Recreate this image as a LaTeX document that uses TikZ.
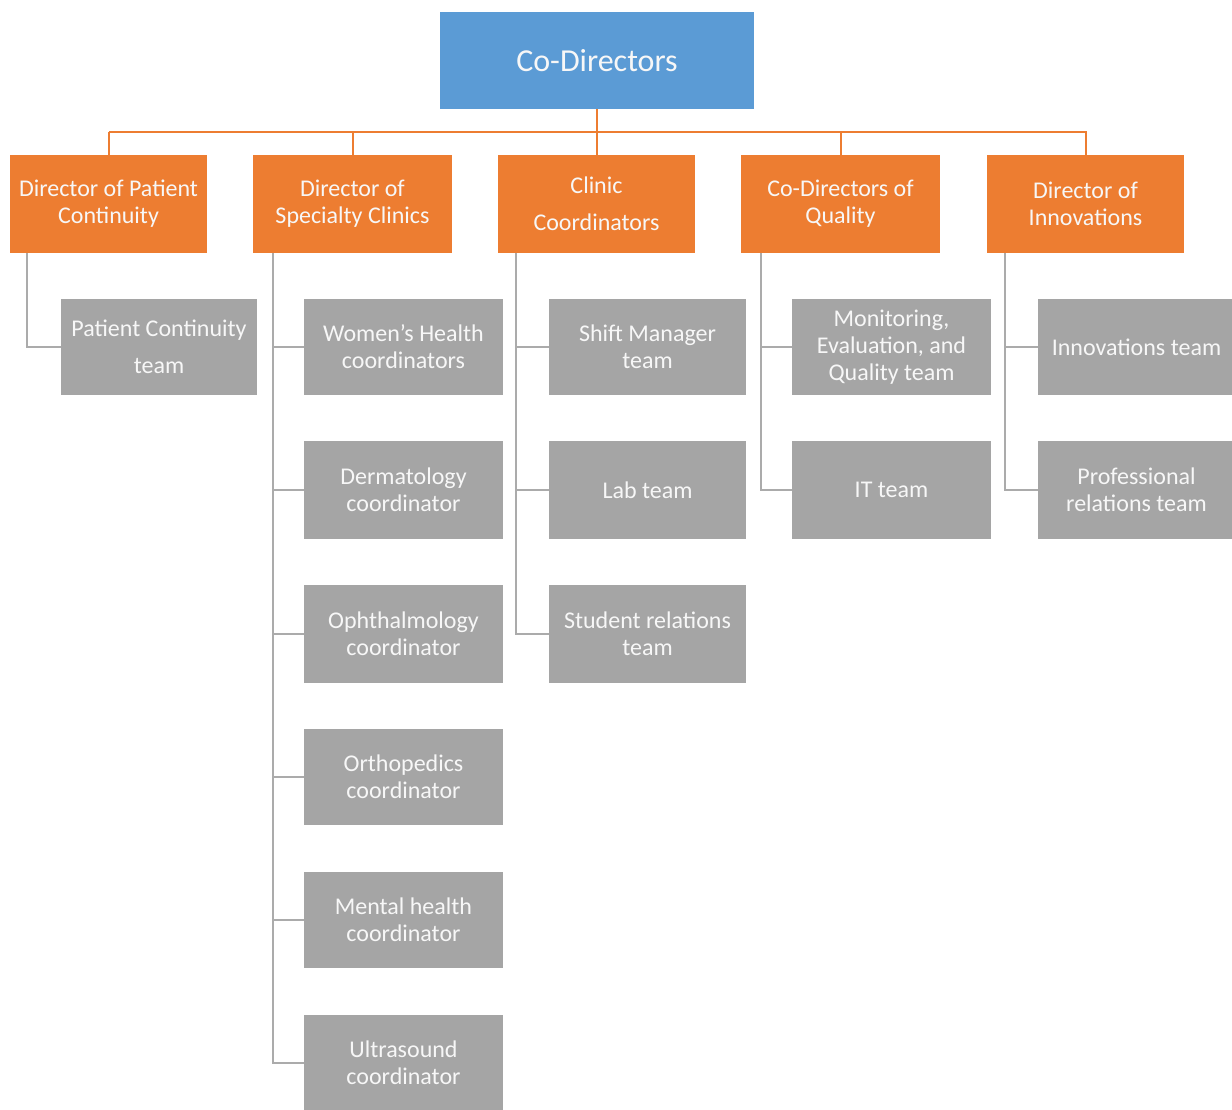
\documentclass[tikz,border=0pt]{standalone}
\usepackage{fontspec}
\setmainfont{Carlito}
\usetikzlibrary{positioning}
\definecolor{cblue}{HTML}{5B9BD5}
\definecolor{corange}{HTML}{ED7D31}
\definecolor{cgray}{HTML}{A5A5A5}
\definecolor{clinegray}{HTML}{ABABAB}
\definecolor{ctext}{HTML}{F7F7F7}
\begin{document}
\begin{tikzpicture}[x=1pt,y=-1pt,
  box/.style={inner sep=0pt, align=center, text=ctext, font=\fontsize{24}{27}\selectfont},
  topbox/.style={box, fill=cblue, minimum width=314pt, minimum height=97pt, font=\fontsize{32}{36}\selectfont},
  obox/.style={box, fill=corange, minimum width=198pt, minimum height=98pt},
  gbox/.style={box, fill=cgray, minimum width=198pt, minimum height=96pt},
  oline/.style={draw=corange, line width=2pt},
  gline/.style={draw=clinegray, line width=2pt}]
\useasboundingbox (0,0) rectangle (1232,1110);
\fill[white] (0,0) rectangle (1232,1110);

\node[topbox] (top) at (597,60.5) {Co-Directors};

\node[obox, minimum width=197pt] (o1) at (108.5,204) {Director of Patient\\Continuity};
\node[obox, minimum width=199pt] (o2) at (352.5,204) {Director of\\Specialty Clinics};
\node[obox, minimum width=197pt] (o3) at (596.5,204) {Clinic\\[10pt]Coordinators};
\node[obox, minimum width=199pt] (o4) at (840.5,204) {Co-Directors of\\Quality};
\node[obox, minimum width=197pt] (o5) at (1085.5,204) {Director of\\Innovations};

\coordinate (busL) at (109,132);
\coordinate (busR) at (1087,132);
\draw[oline] (busL) -- (busR);
\draw[oline] (top.south) -- (top.south |- busL);
\foreach \o in {o1,o2,o3,o4,o5} \draw[oline] (\o.north) -- (\o.north |- busL);

% column 1
\node[gbox, minimum width=196pt] (g11) at (159,347) {Patient Continuity\\[10pt]team};
% column 2
\node[gbox, minimum width=199pt] (g21) at (403.5,347) {Women's Health\\coordinators};
\node[gbox, minimum width=199pt, minimum height=98pt] (g22) at (403.5,490) {Dermatology\\coordinator};
\node[gbox, minimum width=199pt, minimum height=98pt] (g23) at (403.5,634) {Ophthalmology\\coordinator};
\node[gbox, minimum width=199pt] (g24) at (403.5,777) {Orthopedics\\coordinator};
\node[gbox, minimum width=199pt] (g25) at (403.5,920) {Mental health\\coordinator};
\node[gbox, minimum width=199pt] (g26) at (403.5,1063) {Ultrasound\\coordinator};
% column 3
\node[gbox, minimum width=197pt] (g31) at (647.5,347) {Shift Manager\\team};
\node[gbox, minimum width=197pt, minimum height=98pt] (g32) at (647.5,490) {Lab team};
\node[gbox, minimum width=197pt, minimum height=98pt] (g33) at (647.5,634) {Student relations\\team};
% column 4
\node[gbox, minimum width=199pt] (g41) at (891.5,347) {Monitoring,\\Evaluation, and\\Quality team};
\node[gbox, minimum width=199pt, minimum height=98pt] (g42) at (891.5,490) {IT team};
% column 5
\node[gbox, minimum width=197pt] (g51) at (1136.5,347) {Innovations team};
\node[gbox, minimum width=197pt, minimum height=98pt] (g52) at (1136.5,490) {Professional\\relations team};

% gray connectors
\draw[gline] ([xshift=17pt]o1.south west) |- (g11.west);
\foreach \g in {g21,g22,g23,g24,g25,g26} \draw[gline] ([xshift=20pt]o2.south west) |- (\g.west);
\foreach \g in {g31,g32,g33} \draw[gline] ([xshift=18pt]o3.south west) |- (\g.west);
\foreach \g in {g41,g42} \draw[gline] ([xshift=20pt]o4.south west) |- (\g.west);
\foreach \g in {g51,g52} \draw[gline] ([xshift=18pt]o5.south west) |- (\g.west);
\end{tikzpicture}
\end{document}
